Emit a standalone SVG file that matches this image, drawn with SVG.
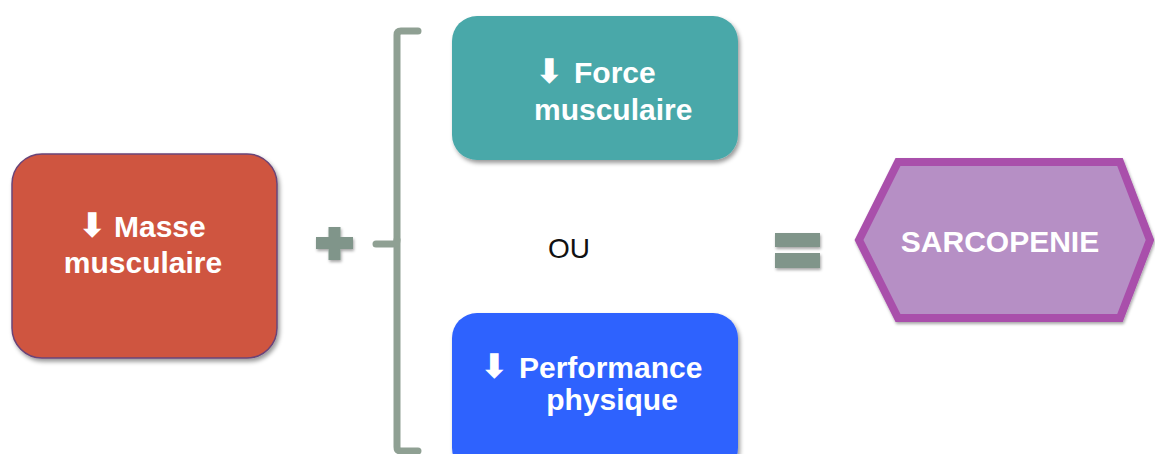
<svg xmlns="http://www.w3.org/2000/svg" width="1155" height="454" viewBox="0 0 1155 454">
<defs>
<filter id="sh" x="-10%" y="-10%" width="125%" height="125%">
<feDropShadow dx="2" dy="3" stdDeviation="2" flood-color="#000" flood-opacity="0.4"/>
</filter>
<filter id="sh2" x="-20%" y="-20%" width="150%" height="150%">
<feDropShadow dx="1" dy="2" stdDeviation="1.5" flood-color="#000" flood-opacity="0.35"/>
</filter>
</defs>
<style>
.t{font-family:"Liberation Sans",Arial,sans-serif;font-weight:bold;font-size:30px;fill:#fff}
.a{font-family:"DejaVu Sans",sans-serif;font-weight:bold;font-size:34px}
.o{font-family:"Liberation Sans",Arial,sans-serif;font-size:28px;fill:#111}
.sym{fill:#80958a}
</style>
<rect width="1155" height="454" fill="#fff"/>
<g id="masse">
<rect x="12" y="154" width="265" height="204" rx="30" fill="#cf543f" stroke="#6a4478" stroke-width="1.5" filter="url(#sh)"/>
<text class="t" y="237"><tspan class="a" x="78">⬇</tspan><tspan x="114">Masse</tspan></text>
<text class="t" x="143" y="273" text-anchor="middle">musculaire</text>
</g>
<g id="plus" filter="url(#sh2)">
<rect class="sym" x="316" y="237" width="37" height="12"/>
<rect class="sym" x="328.5" y="227" width="12" height="33"/>
</g>
<g id="connectors" fill="none" stroke="#8fa093" stroke-width="7" stroke-linecap="round" stroke-linejoin="round">
<path d="M418 31 H401 Q397 31 397 35 V447 Q397 451 401 451 H418"/>
<path d="M397 240 Q397 244 393 244 H376"/>
</g>
<g id="force">
<rect x="452" y="16" width="286" height="144" rx="25" fill="#4aa8a9" filter="url(#sh)"/>
<text class="t" y="83"><tspan class="a" x="535">⬇</tspan><tspan x="574">Force</tspan></text>
<text class="t" x="534" y="120">musculaire</text>
</g>
<g id="ou">
<text class="o" x="569" y="258" text-anchor="middle">OU</text>
</g>
<g id="performance">
<rect x="452" y="313" width="286" height="160" rx="25" fill="#2f62fe" filter="url(#sh)"/>
<text class="t" y="378"><tspan class="a" x="480">⬇</tspan><tspan x="519">Performance</tspan></text>
<text class="t" x="612" y="410" text-anchor="middle">physique</text>
</g>
<g id="equals" filter="url(#sh2)">
<rect class="sym" x="775" y="233" width="45" height="14"/>
<rect class="sym" x="775" y="253" width="45" height="15"/>
</g>
<g id="sarcopenie">
<polygon points="859,240 898,162 1120,162 1150,240 1120,318 898,318" fill="#b68fc5" stroke="#a94fab" stroke-width="8" stroke-linejoin="miter" filter="url(#sh2)"/>
<text class="t" x="1000" y="252" text-anchor="middle">SARCOPENIE</text>
</g>
</svg>
